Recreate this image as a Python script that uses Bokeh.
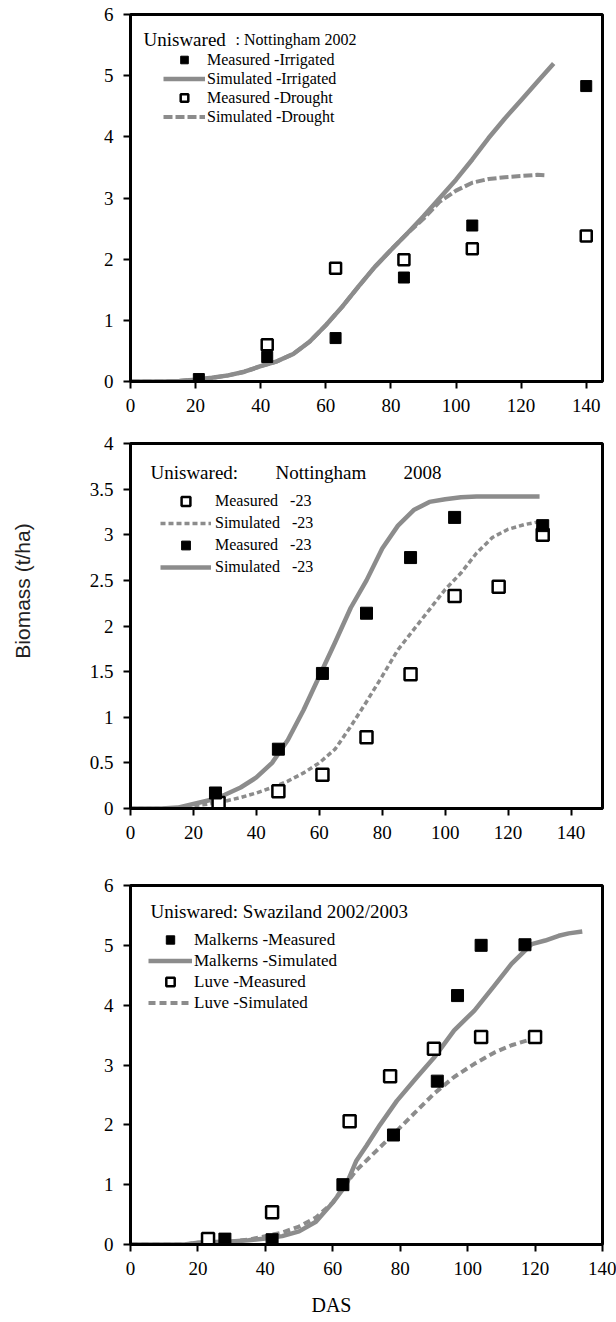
from bokeh.plotting import figure
from bokeh.models import (Range1d, FixedTicker, Legend, LegendItem, Label,
                          CustomJSTickFormatter)
from bokeh.layouts import column
from bokeh.embed import file_html
from bokeh.resources import INLINE

# ---------------- data ----------------
# Panel 1: Nottingham 2002
x_ticks = [0, 20, 40, 60, 80, 100, 120, 140]
p1_y_ticks = [0, 1, 2, 3, 4, 5, 6]
p1_sim_das = [0, 10, 15, 20, 25, 30, 35, 40, 45, 50, 55, 60, 65, 70, 75, 80, 85,
              90, 95, 100, 105, 110, 115, 120, 125, 130]
p1_sim_irrigated = [0, 0, 0.01, 0.03, 0.06, 0.1, 0.16, 0.25, 0.33, 0.45, 0.65, 0.92,
                    1.22, 1.55, 1.87, 2.15, 2.42, 2.7, 3.0, 3.3, 3.63, 3.98, 4.3,
                    4.6, 4.9, 5.2]
p1_sim_drought_das = [0, 10, 15, 20, 25, 30, 35, 40, 45, 50, 55, 60, 65, 70, 75, 80,
                      85, 90, 95, 100, 105, 110, 115, 120, 125, 128]
p1_sim_drought = [0, 0, 0.01, 0.03, 0.06, 0.1, 0.16, 0.25, 0.33, 0.45, 0.65, 0.92,
                  1.22, 1.55, 1.87, 2.15, 2.42, 2.66, 2.94, 3.12, 3.25, 3.31, 3.34,
                  3.36, 3.38, 3.37]
p1_meas_irr_das = [21, 42, 63, 84, 105, 140]
p1_meas_irrigated = [0.04, 0.4, 0.71, 1.7, 2.55, 4.83]
p1_meas_dr_das = [42, 63, 84, 105, 140]
p1_meas_drought = [0.6, 1.85, 1.99, 2.17, 2.38]

# Panel 2: Nottingham 2008
p2_y_ticks = [0, 0.5, 1, 1.5, 2, 2.5, 3, 3.5, 4]
p2_sim_das = [0, 10, 15, 20, 25, 30, 35, 40, 45, 50, 55, 60, 65, 70, 75, 80, 85,
              90, 95, 100, 105, 110, 115, 120, 125, 130]
p2_sim_solid = [0, 0, 0.01, 0.05, 0.09, 0.15, 0.23, 0.34, 0.5, 0.75, 1.08, 1.45,
                1.82, 2.2, 2.5, 2.85, 3.1, 3.27, 3.36, 3.39, 3.41, 3.42, 3.42, 3.42,
                3.42, 3.42]
p2_sim_dash_das = [0, 10, 15, 20, 25, 30, 35, 40, 45, 50, 55, 60, 65, 70, 75, 80, 85,
                   90, 95, 100, 105, 110, 115, 120, 125, 131]
p2_sim_dash = [0, 0, 0.01, 0.03, 0.05, 0.08, 0.12, 0.17, 0.23, 0.3, 0.39, 0.5, 0.65,
               0.9, 1.17, 1.45, 1.74, 1.96, 2.18, 2.4, 2.58, 2.8, 2.97, 3.06, 3.11,
               3.15]
p2_meas_filled_das = [27, 47, 61, 75, 89, 103, 131]
p2_meas_filled = [0.17, 0.65, 1.48, 2.14, 2.75, 3.19, 3.1]
p2_meas_open_das = [28, 47, 61, 75, 89, 103, 117, 131]
p2_meas_open = [0.06, 0.19, 0.37, 0.78, 1.47, 2.33, 2.43, 3.0]

# Panel 3: Swaziland 2002/2003
p3_y_ticks = [0, 1, 2, 3, 4, 5, 6]
p3_malk_sim_das = [0, 16, 20, 25, 30, 35, 40, 45, 50, 55, 60, 64, 67, 70, 74, 79, 85,
                   90, 96, 102, 108, 113, 119, 123, 127, 130, 134]
p3_malk_sim = [0, 0, 0.03, 0.04, 0.05, 0.07, 0.1, 0.14, 0.22, 0.38, 0.7, 1.0, 1.4,
               1.65, 2.0, 2.4, 2.8, 3.12, 3.58, 3.91, 4.33, 4.69, 5.02, 5.08, 5.16,
               5.2, 5.23]
p3_luve_sim_das = [0, 16, 20, 25, 30, 35, 40, 45, 50, 55, 60, 63, 67, 73, 79, 85, 90,
                   96, 102, 108, 113, 120]
p3_luve_sim = [0, 0, 0.03, 0.04, 0.05, 0.08, 0.14, 0.2, 0.3, 0.45, 0.7, 0.95, 1.24,
               1.57, 1.9, 2.24, 2.52, 2.8, 3.02, 3.21, 3.33, 3.45]
p3_malk_meas_das = [28, 42, 63, 78, 91, 97, 104, 117]
p3_malk_meas = [0.09, 0.08, 1.0, 1.83, 2.73, 4.16, 5.0, 5.01]
p3_luve_meas_das = [23, 42, 65, 77, 90, 104, 120]
p3_luve_meas = [0.09, 0.54, 2.06, 2.81, 3.27, 3.47, 3.47]

# ---------------- styling ----------------
SERIF = "Liberation Serif"
SANS = "Liberation Sans"
GRAY = "#8c8c8c"
NB = "\u00a0"


def make_fig(height, xmax, ymax, yticks, bl, br, bt, bb):
    p = figure(width=616, height=height, x_range=Range1d(0, xmax),
               y_range=Range1d(0, ymax), output_backend="svg",
               toolbar_location=None, tools="",
               min_border_left=bl, min_border_right=br,
               min_border_top=bt, min_border_bottom=bb)
    p.xgrid.visible = False
    p.ygrid.visible = False
    p.outline_line_color = "black"
    p.outline_line_width = 3
    p.outline_line_alpha = 1
    p.background_fill_color = "white"
    p.border_fill_color = "white"
    p.xaxis.ticker = FixedTicker(ticks=x_ticks)
    p.yaxis.ticker = FixedTicker(ticks=yticks)
    for ax in (p.xaxis[0], p.yaxis[0]):
        ax.axis_line_width = 3
        ax.axis_line_color = "black"
        ax.major_tick_line_width = 2
        ax.major_tick_line_color = "black"
        ax.major_tick_in = 0
        ax.major_tick_out = 7
        ax.minor_tick_line_color = None
        ax.major_label_text_font = SERIF
        ax.major_label_text_font_size = "19px"
        ax.major_label_text_color = "black"
        ax.major_label_standoff = 10
    return p


def add_text(p, x, y, text, size, font=SERIF):
    lab = Label(x=x, y=y, x_units="screen", y_units="screen", text=text,
                text_font=font, text_font_size=size, text_color="black",
                text_baseline="alphabetic", text_align="left")
    p.add_layout(lab)
    return lab


def make_legend(p, items, loc, item_h, glyph_w, standoff, size):
    leg = Legend(items=items, location=loc, padding=0, margin=0, spacing=0,
                 label_height=item_h, glyph_height=item_h, glyph_width=glyph_w,
                 label_standoff=standoff, label_text_font=SERIF,
                 label_text_font_size=size, label_text_color="black",
                 border_line_color=None, background_fill_alpha=0)
    p.add_layout(leg, "center")
    return leg


# ---------------- panel 1 ----------------
f1 = make_fig(425, 145, 6, p1_y_ticks, 130, 6, 14, 44)
r1a = f1.line(p1_sim_das, p1_sim_irrigated, line_color=GRAY, line_width=4.5,
              line_join="round")
r1b = f1.line(p1_sim_drought_das, p1_sim_drought, line_color=GRAY, line_width=4,
              line_dash="9 3")
r1c = f1.scatter(p1_meas_irr_das, p1_meas_irrigated, marker="square", size=11,
                 fill_color="black", line_color="black")
r1d = f1.scatter(p1_meas_dr_das, p1_meas_drought, marker="square", size=11,
                 fill_color="white", line_color="black", line_width=2.5)
make_legend(f1, [LegendItem(label="Measured -Irrigated", renderers=[r1c]),
                 LegendItem(label="Simulated -Irrigated", renderers=[r1a]),
                 LegendItem(label="Measured -Drought", renderers=[r1d]),
                 LegendItem(label="Simulated -Drought", renderers=[r1b])],
            (33, 255), 19, 42, 2, "16px")
add_text(f1, 13, 342, "Uniswared", "19px")
add_text(f1, 105, 342, ": Nottingham 2002", "16px")

# ---------------- panel 2 ----------------
f2 = make_fig(435, 150, 4, p2_y_ticks, 127, 9, 18, 52)
f2.yaxis[0].formatter = CustomJSTickFormatter(code="return String(Math.round(tick*10)/10);")
f2.yaxis[0].axis_label = NB * 12 + "Biomass (t/ha)"
f2.yaxis[0].axis_label_text_font = SANS
f2.yaxis[0].axis_label_text_font_size = "21px"
f2.yaxis[0].axis_label_text_font_style = "normal"
f2.yaxis[0].axis_label_text_color = "#222222"
f2.yaxis[0].axis_label_standoff = 53
r2a = f2.line(p2_sim_dash_das, p2_sim_dash, line_color=GRAY, line_width=3.5,
              line_dash="5 3")
r2b = f2.line(p2_sim_das, p2_sim_solid, line_color=GRAY, line_width=4.5,
              line_join="round")
r2c = f2.scatter(p2_meas_open_das, p2_meas_open, marker="square", size=12,
                 fill_color="white", line_color="black", line_width=2.5)
r2d = f2.scatter(p2_meas_filled_das, p2_meas_filled, marker="square", size=12,
                 fill_color="black", line_color="black")
make_legend(f2, [LegendItem(label="Measured" + NB * 3 + "-23", renderers=[r2c]),
                 LegendItem(label="Simulated" + NB * 3 + "-23", renderers=[r2a]),
                 LegendItem(label="Measured" + NB * 3 + "-23", renderers=[r2d]),
                 LegendItem(label="Simulated" + NB * 3 + "-23", renderers=[r2b])],
            (30, 230), 22, 51, 4, "16px")
add_text(f2, 20, 336, "Uniswared:", "19px")
add_text(f2, 145, 336, "Nottingham", "19px")
add_text(f2, 273, 336, "2008", "19px")

# ---------------- panel 3 ----------------
f3 = make_fig(462, 140, 6, p3_y_ticks, 125, 14, 25, 78)
f3.xaxis[0].axis_label = "DAS" + NB * 14
f3.xaxis[0].axis_label_text_font = SERIF
f3.xaxis[0].axis_label_text_font_size = "20px"
f3.xaxis[0].axis_label_text_font_style = "normal"
f3.xaxis[0].axis_label_text_color = "black"
f3.xaxis[0].axis_label_standoff = 16
r3a = f3.line(p3_malk_sim_das, p3_malk_sim, line_color=GRAY, line_width=4.5,
              line_join="round")
r3b = f3.line(p3_luve_sim_das, p3_luve_sim, line_color=GRAY, line_width=4,
              line_dash="7 4")
r3c = f3.scatter(p3_malk_meas_das, p3_malk_meas, marker="square", size=12,
                 fill_color="black", line_color="black")
r3d = f3.scatter(p3_luve_meas_das, p3_luve_meas, marker="square", size=12,
                 fill_color="white", line_color="black", line_width=2.5)
make_legend(f3, [LegendItem(label="Malkerns -Measured", renderers=[r3c]),
                 LegendItem(label="Malkerns -Simulated", renderers=[r3a]),
                 LegendItem(label="Luve -Measured", renderers=[r3d]),
                 LegendItem(label="Luve -Simulated", renderers=[r3b])],
            (18, 231), 21, 44, 2, "17px")
add_text(f3, 20, 333, "Uniswared: Swaziland 2002/2003", "19px")

page = column(f1, f2, f3, spacing=0)
open("out.html", "w").write(file_html(page, INLINE))
